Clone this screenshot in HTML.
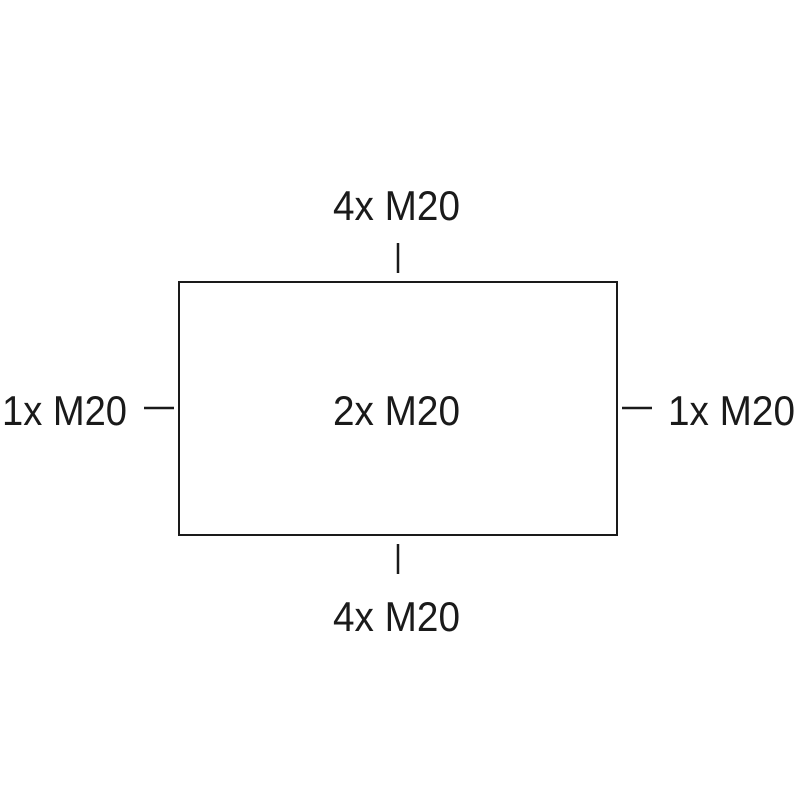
<!DOCTYPE html>
<html><head><meta charset="utf-8"><style>
html,body{margin:0;padding:0;background:#fff;}
svg{display:block}
text{font-family:"Liberation Sans",sans-serif;font-size:42px;fill:#1a1a1a;}
</style></head><body>
<svg width="800" height="800" viewBox="0 0 800 800">
<rect x="179" y="282" width="438" height="253" fill="none" stroke="#1a1a1a" stroke-width="2"/>
<line x1="398" y1="243" x2="398" y2="273" stroke="#1a1a1a" stroke-width="2.5"/>
<line x1="398" y1="544" x2="398" y2="574" stroke="#1a1a1a" stroke-width="2.5"/>
<line x1="144" y1="408" x2="174" y2="408" stroke="#1a1a1a" stroke-width="2.5"/>
<line x1="622" y1="408" x2="652" y2="408" stroke="#1a1a1a" stroke-width="2.5"/>
<text x="333" y="220" textLength="127" lengthAdjust="spacingAndGlyphs">4x M20</text>
<text x="333" y="425" textLength="127" lengthAdjust="spacingAndGlyphs">2x M20</text>
<text x="333" y="631" textLength="127" lengthAdjust="spacingAndGlyphs">4x M20</text>
<text x="2" y="425" textLength="125" lengthAdjust="spacingAndGlyphs">1x M20</text>
<text x="668" y="425" textLength="127" lengthAdjust="spacingAndGlyphs">1x M20</text>
</svg>
</body></html>
